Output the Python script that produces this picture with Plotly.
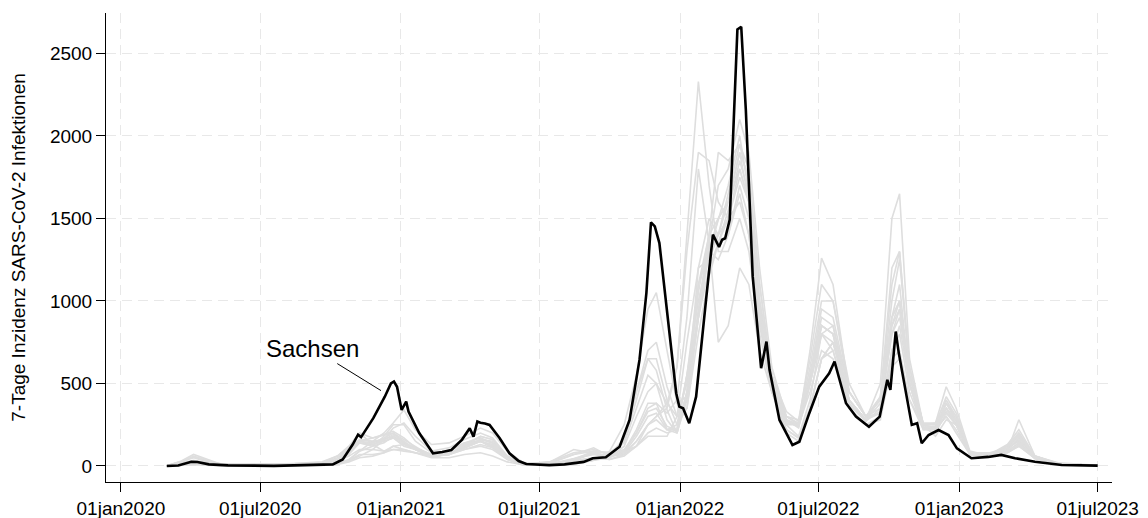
import plotly.graph_objects as go

# ---------------- data ----------------
grid_dates = [
    "2020-03-01", "2020-03-20", "2020-04-05", "2020-04-20", "2020-05-10", "2020-06-15",
    "2020-08-15", "2020-09-20", "2020-10-10", "2020-10-25", "2020-11-08", "2020-11-25",
    "2020-12-10", "2020-12-22", "2021-01-05", "2021-01-20", "2021-02-10", "2021-03-05",
    "2021-03-25", "2021-04-15", "2021-05-01", "2021-05-20", "2021-06-10", "2021-07-15",
    "2021-08-15", "2021-09-10", "2021-10-01", "2021-10-20", "2021-11-05", "2021-11-20",
    "2021-12-01", "2021-12-15", "2021-12-28", "2022-01-10", "2022-01-25", "2022-02-08",
    "2022-02-20", "2022-03-05", "2022-03-20", "2022-04-01", "2022-04-15", "2022-05-01",
    "2022-05-20", "2022-06-05", "2022-06-20", "2022-07-05", "2022-07-20", "2022-08-10",
    "2022-09-01", "2022-09-20", "2022-10-05", "2022-10-15", "2022-10-28", "2022-11-15",
    "2022-12-01", "2022-12-15", "2022-12-28", "2023-01-15", "2023-02-10", "2023-03-05",
    "2023-03-20", "2023-04-10", "2023-05-10", "2023-07-01",
]

thueringen = [0, 8, 25, 20, 8, 2, 3, 5, 12, 35, 90, 150, 200, 260, 340, 220, 130, 140, 180, 230,
              200, 90, 20, 5, 10, 35, 90, 250, 550, 950, 1050, 700, 380, 420, 900, 1300, 1500,
              1700, 2000, 1650, 900, 450, 200, 150, 350, 650, 750, 450, 300, 400, 850, 1000, 550,
              250, 230, 300, 200, 70, 60, 80, 120, 50, 15, 3]
bayern = [2, 30, 70, 45, 12, 3, 12, 15, 35, 80, 150, 170, 190, 200, 160, 120, 60, 75, 120, 180,
          160, 60, 12, 10, 30, 85, 80, 150, 450, 650, 580, 340, 200, 420, 1200, 1500, 1400,
          1650, 1950, 1700, 1000, 550, 280, 250, 550, 900, 850, 400, 280, 500, 1500, 1650, 650,
          250, 180, 280, 250, 80, 70, 120, 180, 60, 20, 4]
berlin = [1, 20, 35, 22, 8, 12, 15, 25, 60, 110, 200, 170, 190, 210, 170, 110, 60, 75, 110, 150,
          130, 50, 12, 25, 80, 100, 70, 100, 200, 350, 380, 320, 400, 900, 1800, 1350, 750,
          850, 1200, 1100, 700, 450, 250, 250, 450, 700, 650, 350, 250, 300, 600, 650, 400,
          250, 250, 350, 250, 80, 80, 110, 150, 50, 15, 3]
hamburg = [1, 30, 50, 30, 6, 4, 12, 15, 50, 100, 140, 120, 140, 180, 140, 100, 60, 90, 140, 150,
           110, 40, 10, 25, 100, 80, 60, 80, 150, 250, 300, 380, 600, 1400, 2330, 1700, 1300,
           1300, 1500, 1300, 800, 450, 260, 250, 500, 800, 700, 350, 250, 280, 650, 700, 400,
           220, 220, 300, 220, 70, 70, 90, 140, 45, 15, 3]
bremen = [0, 10, 25, 25, 15, 8, 15, 20, 60, 120, 200, 130, 90, 100, 90, 80, 60, 70, 100, 130,
          110, 60, 15, 20, 70, 90, 80, 90, 120, 250, 300, 350, 600, 1300, 1900, 1850, 1600,
          1500, 1600, 1400, 900, 500, 280, 230, 500, 850, 800, 400, 280, 320, 700, 800, 450,
          230, 230, 380, 280, 80, 70, 100, 160, 55, 15, 3]
niedersachsen = [0, 10, 20, 15, 5, 3, 6, 10, 30, 60, 100, 100, 90, 120, 100, 80, 60, 70, 100, 120,
                 100, 40, 8, 10, 30, 50, 40, 70, 120, 200, 230, 200, 220, 550, 1000, 1300, 1500,
                 1600, 1800, 1600, 1000, 550, 300, 250, 550, 950, 900, 450, 300, 350, 900, 1000,
                 550, 250, 260, 400, 300, 80, 70, 120, 200, 60, 15, 3]
nrw = [1, 15, 30, 20, 8, 8, 12, 15, 40, 100, 160, 150, 150, 170, 120, 100, 60, 70, 120, 160,
       140, 60, 10, 15, 70, 110, 60, 70, 150, 250, 280, 220, 250, 550, 900, 1200, 1350,
       1400, 1700, 1500, 900, 500, 280, 250, 550, 850, 800, 400, 280, 330, 800, 950, 500,
       230, 240, 380, 280, 70, 60, 100, 170, 55, 15, 3]
hessen = [0, 12, 25, 18, 6, 4, 10, 12, 35, 90, 150, 140, 170, 200, 140, 100, 60, 70, 120, 160,
          150, 60, 10, 12, 45, 80, 60, 80, 180, 300, 320, 220, 220, 550, 1100, 1300, 1250,
          1400, 1650, 1400, 850, 480, 270, 240, 500, 800, 750, 370, 270, 350, 900, 1100, 500,
          230, 220, 350, 270, 75, 65, 110, 180, 55, 15, 3]
rheinland_pfalz = [0, 12, 25, 18, 5, 3, 8, 10, 30, 70, 140, 130, 150, 170, 130, 100, 60, 70, 110, 150,
                   120, 50, 8, 10, 40, 75, 60, 90, 200, 330, 350, 240, 220, 450, 950, 1400, 1500,
                   1600, 1900, 1750, 1100, 550, 300, 280, 650, 1100, 1000, 450, 300, 400, 1000, 1250,
                   600, 250, 220, 350, 280, 75, 70, 120, 200, 55, 15, 3]
saarland = [1, 25, 55, 35, 8, 3, 8, 10, 30, 80, 160, 150, 160, 180, 140, 110, 70, 80, 110, 150,
            120, 50, 8, 8, 40, 70, 50, 90, 220, 380, 380, 220, 200, 400, 900, 1350, 1700,
            1800, 2100, 1900, 1200, 600, 300, 260, 700, 1260, 1100, 450, 300, 420, 1100, 1300,
            600, 250, 230, 380, 300, 80, 70, 130, 220, 60, 15, 3]
schleswig_holstein = [0, 8, 15, 10, 3, 2, 5, 6, 15, 35, 70, 70, 80, 100, 100, 80, 50, 50, 70, 80,
                      60, 25, 6, 15, 35, 50, 40, 60, 120, 180, 180, 180, 300, 750, 1200, 1250, 1400,
                      1500, 1750, 1600, 1000, 550, 330, 270, 600, 1000, 1000, 500, 300, 320, 700, 850,
                      500, 250, 250, 420, 320, 80, 60, 90, 140, 50, 15, 3]
brandenburg = [0, 8, 15, 10, 3, 2, 4, 6, 15, 40, 90, 120, 180, 250, 250, 150, 80, 90, 140, 170,
               140, 50, 8, 6, 15, 40, 50, 150, 400, 650, 650, 400, 250, 350, 900, 1300, 1400,
               1600, 1900, 1600, 900, 450, 220, 170, 350, 650, 750, 400, 280, 380, 850, 950,
               500, 230, 230, 330, 250, 70, 55, 80, 130, 45, 12, 3]
mecklenburg_vorpommern = [0, 5, 8, 5, 2, 1, 3, 4, 10, 25, 50, 60, 80, 120, 130, 110, 70, 70, 130, 150,
                          120, 40, 5, 5, 15, 35, 50, 120, 300, 450, 500, 380, 300, 500, 1050, 1400,
                          1900, 1850, 1950, 1800, 1100, 550, 250, 180, 400, 800, 850, 450, 300, 400,
                          800, 900, 550, 260, 260, 480, 350, 90, 60, 90, 280, 60, 15, 3]
sachsen_anhalt = [0, 6, 12, 10, 3, 2, 4, 6, 12, 30, 60, 100, 160, 230, 260, 180, 90, 110, 160, 200,
                  170, 60, 8, 5, 12, 35, 60, 170, 450, 700, 750, 480, 300, 350, 800, 1150, 1350,
                  1550, 1850, 1650, 950, 450, 220, 170, 350, 650, 700, 380, 280, 420, 900, 1000,
                  500, 220, 230, 350, 250, 70, 55, 80, 120, 45, 12, 3]
baden_wuerttemberg = [1, 25, 60, 40, 10, 3, 10, 12, 35, 85, 150, 130, 160, 190, 150, 100, 55, 70, 130, 180,
                      160, 60, 10, 12, 40, 90, 80, 140, 350, 550, 500, 280, 200, 450, 1100, 1400, 1350,
                      1500, 1800, 1600, 950, 500, 270, 240, 500, 850, 800, 380, 270, 420, 1200, 1300,
                      550, 230, 200, 320, 250, 75, 65, 110, 190, 55, 15, 3]

other_states = [thueringen, bayern, berlin, hamburg, bremen, niedersachsen, nrw, hessen,
                rheinland_pfalz, saarland, schleswig_holstein, brandenburg,
                mecklenburg_vorpommern, sachsen_anhalt, baden_wuerttemberg]

sachsen_dates = [
    "2020-03-01", "2020-03-16", "2020-04-02", "2020-04-10", "2020-04-25", "2020-05-20",
    "2020-07-19", "2020-09-17", "2020-10-04", "2020-10-17", "2020-10-30", "2020-11-06",
    "2020-11-10", "2020-11-26", "2020-12-11", "2020-12-19", "2020-12-23", "2020-12-27",
    "2021-01-02", "2021-01-08", "2021-01-11", "2021-01-25", "2021-02-12", "2021-02-24",
    "2021-03-08", "2021-03-22", "2021-04-01", "2021-04-06", "2021-04-11", "2021-04-15",
    "2021-04-21", "2021-04-27", "2021-05-10", "2021-05-23", "2021-06-04", "2021-06-14",
    "2021-07-14", "2021-08-03", "2021-08-14", "2021-08-28", "2021-09-09", "2021-09-26",
    "2021-10-14", "2021-10-27", "2021-11-09", "2021-11-18", "2021-11-24", "2021-11-29",
    "2021-12-05", "2021-12-18", "2021-12-27", "2021-12-31", "2022-01-05", "2022-01-13",
    "2022-01-22", "2022-02-04", "2022-02-13", "2022-02-21", "2022-02-25", "2022-03-01",
    "2022-03-07", "2022-03-17", "2022-03-22", "2022-03-28", "2022-04-06", "2022-04-17",
    "2022-04-24", "2022-04-28", "2022-05-11", "2022-05-28", "2022-06-06", "2022-06-19",
    "2022-07-02", "2022-07-15", "2022-07-22", "2022-08-06", "2022-08-19", "2022-09-05",
    "2022-09-19", "2022-09-29", "2022-10-03", "2022-10-10", "2022-10-14", "2022-10-31",
    "2022-11-07", "2022-11-13", "2022-11-22", "2022-12-05", "2022-12-18", "2022-12-29",
    "2023-01-17", "2023-02-08", "2023-02-25", "2023-03-15", "2023-04-10", "2023-05-15",
    "2023-07-01",
]
sachsen = [
    0, 3, 26, 24, 10, 4,
    1, 5, 10, 40, 130, 190,
    175, 290, 420, 500, 512, 480,
    340, 390, 330, 200, 77, 85,
    97, 160, 229, 178, 270, 262,
    258, 249, 170, 77, 30, 12,
    5, 10, 16, 25, 47, 53,
    117, 279, 643, 1048, 1476, 1452,
    1351, 805, 441, 360, 350, 259,
    420, 1007, 1402, 1327, 1371, 1380,
    1493, 2646, 2662, 2160, 1149, 593,
    754, 583, 279, 127, 147, 320,
    481, 562, 633, 380, 299, 238,
    299, 522, 461, 815, 684, 249,
    259, 138, 188, 218, 188, 107,
    47, 55, 67, 47, 26, 6,
    2,
]

x_tickvals = ["2020-01-01", "2020-07-01", "2021-01-01", "2021-07-01", "2022-01-01",
              "2022-07-01", "2023-01-01", "2023-07-01"]
x_ticktext = ["01jan2020", "01jul2020", "01jan2021", "01jul2021", "01jan2022",
              "01jul2022", "01jan2023", "01jul2023"]
y_tickvals = [0, 500, 1000, 1500, 2000, 2500]

# ---------------- figure ----------------
fig = go.Figure()
for vals in other_states:
    fig.add_trace(go.Scatter(x=grid_dates, y=vals, mode="lines",
                             line=dict(color="#dedede", width=1.6),
                             hoverinfo="skip", showlegend=False))
fig.add_trace(go.Scatter(x=sachsen_dates, y=sachsen, mode="lines",
                         line=dict(color="black", width=2.6),
                         name="Sachsen", showlegend=False))

fig.add_annotation(x="2020-12-06", y=457, text="Sachsen", showarrow=True,
                   arrowhead=0, arrowwidth=1, arrowcolor="black",
                   ax=-68, ay=-42, font=dict(family="Liberation Sans, Arial", size=24, color="black"))

axis_font = dict(family="Liberation Sans, Arial", size=19, color="black")
fig.update_xaxes(range=["2019-12-12 12:00", "2023-07-19 18:00"],
                 tickvals=x_tickvals, ticktext=x_ticktext, automargin=False,
                 showline=True, linecolor="black", linewidth=1,
                 ticks="outside", ticklen=9, tickcolor="black", tickwidth=1,
                 showgrid=True, gridcolor="#e8e8e8", gridwidth=1, griddash="10px,6px",
                 zeroline=False, tickfont=axis_font)
fig.update_yaxes(range=[-97, 2745], tickvals=y_tickvals, automargin=False,
                 showline=True, linecolor="black", linewidth=1,
                 ticks="outside", ticklen=9, tickcolor="black", tickwidth=1,
                 showgrid=True, gridcolor="#e8e8e8", gridwidth=1, griddash="10px,6px",
                 zeroline=False, tickfont=axis_font,
                 title=dict(text="7-Tage Inzidenz SARS-CoV-2 Infektionen",
                            font=dict(family="Liberation Sans, Arial", size=19, color="black"),
                            standoff=20))
# the page body adds an 8px offset, so the figure is 8px smaller on each axis
fig.update_layout(width=1140, height=510, plot_bgcolor="white", paper_bgcolor="white",
                  margin=dict(l=98, r=36, t=5, b=36), showlegend=False)

fig.write_html("out.html")
